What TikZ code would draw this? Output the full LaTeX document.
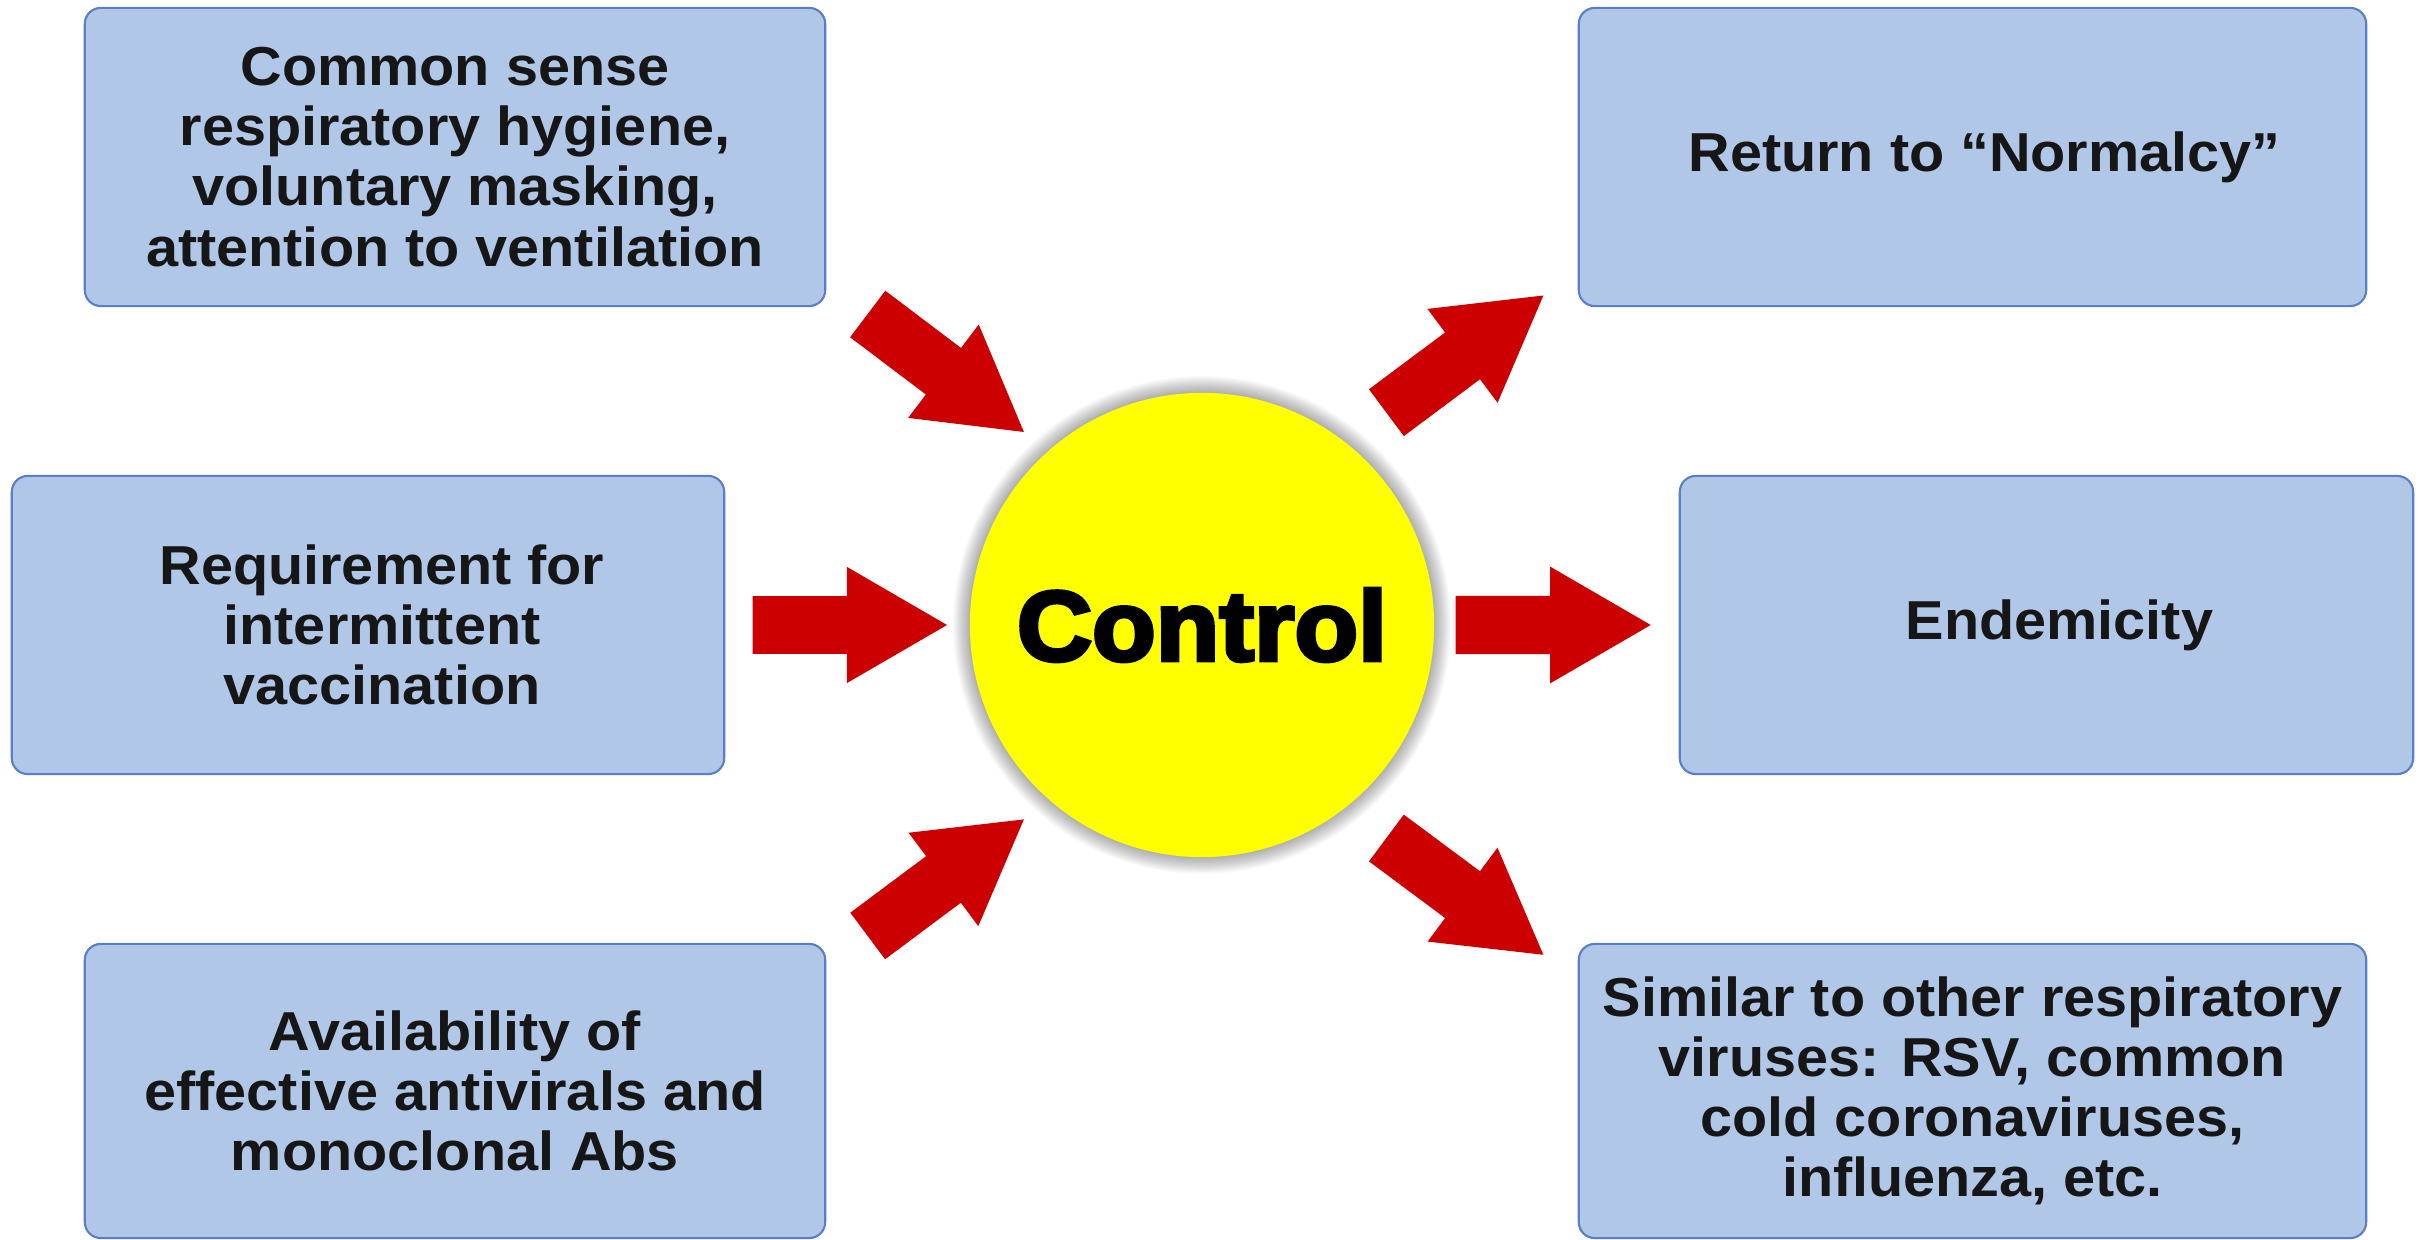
\documentclass[tikz,border=0pt]{standalone}
\usepackage{fontspec}
\setmainfont{Liberation Sans}
\newfontfamily\boxfont[FakeStretch=1.05]{Liberation Sans}
\newfontfamily\ctrlfont[FakeStretch=1.05,FakeBold=4]{Liberation Sans}
\usetikzlibrary{calc}
\definecolor{boxfill}{HTML}{B1C7E7}
\definecolor{boxline}{HTML}{5A7FC8}
\definecolor{arrowred}{HTML}{CC0000}
\definecolor{ink}{HTML}{161616}
\definecolor{sunyellow}{HTML}{FFFF00}
\tikzset{
  boxtext/.style={align=center, inner sep=0pt, text=ink,
    font=\boxfont\bfseries\fontsize{15.6pt}{17.1pt}\selectfont},
  infobox/.style={boxtext, draw=boxline, line width=0.6pt, fill=boxfill,
    rounded corners=0.16cm},
  blockarrow/.style={fill=arrowred},
  hub/.style={circle, fill=sunyellow, inner sep=0pt, minimum size=4.64cm,
    font=\ctrlfont\bfseries\fontsize{28.2pt}{30pt}\selectfont, text=black},
}
\newcommand\blockarr[2]{%
  \fill[blockarrow]
    ($(#1)!0.149!90:(#2)$) --
    ($(#1)!0.485!(#2) + (#1)!0.149!90:(#2) - (#1)$) --
    ($(#1)!0.485!(#2) + (#1)!0.299!90:(#2) - (#1)$) --
    (#2) --
    ($(#1)!0.485!(#2) + (#1)!0.299!-90:(#2) - (#1)$) --
    ($(#1)!0.485!(#2) + (#1)!0.149!-90:(#2) - (#1)$) --
    ($(#1)!0.149!-90:(#2)$) -- cycle;}
\begin{document}
\begin{tikzpicture}[x={(0.01cm,0)}, y={(0,-0.01cm)}]
\useasboundingbox (0,0) rectangle (2435,1240);
\fill[white] (0,0) rectangle (2435,1240);

% boxes
\node[infobox, minimum width=7.40cm, minimum height=2.98cm] (tl) at (455,157)
  {Common sense\\respiratory hygiene,\\voluntary masking,\\attention to ventilation};
\node[infobox, minimum width=7.12cm, minimum height=2.98cm,
  label={[boxtext, xshift=0.14cm]center:Requirement for\\intermittent\\vaccination}] (ml) at (368,625) {};
\node[infobox, minimum width=7.40cm, minimum height=2.94cm] (bl) at (455,1091)
  {Availability of\\effective antivirals and\\monoclonal Abs};
\node[infobox, minimum width=7.87cm, minimum height=2.98cm,
  label={[boxtext, xshift=0.12cm]center:Return to “Normalcy”}] (tr) at (1972.5,157) {};
\node[infobox, minimum width=7.33cm, minimum height=2.98cm,
  label={[boxtext, xshift=0.13cm]center:Endemicity}] (mr) at (2046.5,625) {};
\node[infobox, minimum width=7.87cm, minimum height=2.94cm] (br) at (1972.5,1091)
  {Similar to other respiratory\\viruses: RSV, common\\cold coronaviruses,\\influenza, etc.};

% central circle with soft shadow
\coordinate (cc) at (1202,625);
\foreach \i in {1,...,14}{
  \pgfmathsetmacro\rr{2.32+\i*0.012}
  \fill[black, opacity=0.024] (cc) circle[radius=\rr cm];
}
\node[hub] (ctrl) at (cc) {Control};

% arrows
\coordinate (a1t) at (867.7,314);   \coordinate (a1h) at (1023.9,432);
\coordinate (a2t) at (752.6,625);   \coordinate (a2h) at (947,625);
\coordinate (a3t) at (867.7,936);   \coordinate (a3h) at (1023.9,819.4);
\coordinate (a4t) at (1386.4,412.7);\coordinate (a4h) at (1543.4,295.5);
\coordinate (a5t) at (1455.6,625);  \coordinate (a5h) at (1650.7,625);
\coordinate (a6t) at (1386.4,838);  \coordinate (a6h) at (1543.4,954.8);
\blockarr{a1t}{a1h}
\blockarr{a2t}{a2h}
\blockarr{a3t}{a3h}
\blockarr{a4t}{a4h}
\blockarr{a5t}{a5h}
\blockarr{a6t}{a6h}
\end{tikzpicture}
\end{document}
